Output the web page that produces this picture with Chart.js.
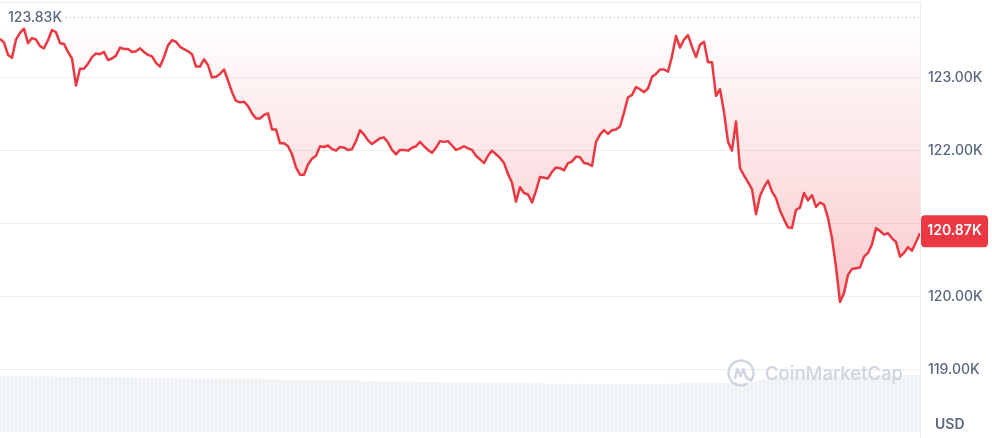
<!DOCTYPE html>
<html><head><meta charset="utf-8">
<script src="https://cdn.jsdelivr.net/npm/chart.js@4.4.1/dist/chart.umd.min.js"></script>
<style>html,body{margin:0;padding:0;background:#fff;overflow:hidden}#wrap{width:992px;height:438px;position:relative}</style>
</head><body><div id="wrap"><canvas id="c" width="992" height="438"></canvas></div>
<script>
// BTC price (thousand USD), evenly spaced samples over 24h
const prices = [
123.53,123.48,123.31,123.27,123.52,123.61,123.67,123.47,123.54,123.52,
123.43,123.40,123.51,123.65,123.62,123.47,123.46,123.35,123.26,122.89,
123.12,123.12,123.19,123.28,123.33,123.32,123.35,123.24,123.26,123.30,
123.41,123.39,123.39,123.35,123.36,123.40,123.35,123.31,123.29,123.20,
123.15,123.28,123.44,123.51,123.49,123.42,123.39,123.36,123.32,123.15,
123.15,123.25,123.17,123.00,123.01,123.05,123.11,122.96,122.80,122.68,
122.66,122.67,122.61,122.51,122.44,122.44,122.49,122.51,122.29,122.29,
122.10,122.10,122.06,121.95,121.77,121.67,121.67,121.81,121.89,121.93,
122.06,122.05,122.07,122.02,122.00,122.05,122.04,122.01,122.02,122.13,
122.28,122.22,122.14,122.09,122.13,122.17,122.18,122.11,122.01,121.95,
122.01,122.01,122.00,122.04,122.06,122.12,122.06,122.01,121.97,122.04,
122.13,122.12,122.13,122.07,122.01,122.03,122.06,122.03,122.01,121.93,
121.88,121.83,121.93,122.00,121.95,121.90,121.83,121.68,121.56,121.30,
121.50,121.42,121.40,121.29,121.45,121.64,121.63,121.62,121.71,121.77,
121.76,121.73,121.83,121.85,121.92,121.91,121.83,121.82,121.79,122.12,
122.22,122.28,122.23,122.28,122.29,122.33,122.52,122.73,122.76,122.87,
122.84,122.80,122.85,123.01,123.05,123.11,123.11,123.08,123.29,123.57,
123.41,123.52,123.58,123.42,123.28,123.45,123.49,123.21,123.21,122.75,
122.84,122.53,122.12,122.00,122.40,121.76,121.66,121.57,121.47,121.13,
121.38,121.50,121.59,121.44,121.35,121.18,121.06,120.95,120.94,121.19,
121.22,121.42,121.32,121.39,121.23,121.29,121.26,121.08,120.80,120.41,
119.93,120.05,120.30,120.38,120.39,120.40,120.55,120.60,120.72,120.94,
120.90,120.85,120.87,120.80,120.75,120.55,120.60,120.68,120.63,120.75,
120.87
];
// 24h volume (relative units)
const volumes = [
13.1,13.0,13.1,13.0,13.1,13.0,13.0,13.1,13.0,12.9,13.0,13.0,12.9,13.0,12.9,12.9,12.8,12.9,12.8,12.8,
12.8,12.9,12.8,12.8,12.7,12.8,12.8,12.7,12.8,12.8,12.7,12.7,12.8,12.7,12.6,12.7,12.6,12.6,12.7,12.6,
12.6,12.6,12.5,12.6,12.6,12.5,12.6,12.5,12.5,12.5,12.4,12.5,12.4,12.5,12.4,12.4,12.3,12.4,12.4,12.3,
12.4,12.3,12.4,12.3,12.3,12.4,12.3,12.2,12.3,12.2,12.3,12.2,12.2,12.1,12.2,12.1,12.2,12.1,12.1,12.2,
12.1,12.1,12.0,12.1,12.1,12.0,12.1,12.0,12.0,12.1,12.0,11.9,12.0,11.9,11.9,12.0,11.9,11.8,11.9,11.8,
11.8,11.7,11.8,11.7,11.7,11.6,11.7,11.6,11.7,11.6,11.6,11.5,11.6,11.6,11.5,11.6,11.5,11.5,11.6,11.5,
11.5,11.4,11.5,11.4,11.4,11.5,11.4,11.4,11.3,11.4,11.4,11.3,11.4,11.3,11.3,11.4,11.3,11.3,11.2,11.3,
11.3,11.2,11.3,11.2,11.2,11.3,11.2,11.2,11.1,11.2,11.2,11.1,11.2,11.2,11.1,11.2,11.1,11.2,11.2,11.1,
11.2,11.1,11.2,11.2,11.1,11.2,11.2,11.3,11.2,11.3,11.3,11.4,11.3,11.4,11.4,11.3,11.4,11.4,11.5,11.4,
11.4,11.5,11.4,11.5,11.5,11.6,11.6,11.7,11.8,11.9,12.1,12.3,12.5,12.7,12.8,12.9,12.9,13.0,12.9,13.0,
13.0,13.1,13.0,13.0,13.1,13.0,13.1,13.1,13.0,13.1,13.1,13.0,13.1,13.1,13.2,13.1,13.1,13.2,13.1,13.2,
13.2,13.1,13.2,13.2,13.1,13.2,13.2,13.3,13.2,13.2,13.3
];
const yTicks = [119, 120, 121, 122, 123];
const openPrice = 123.83;
const yMin = 118.15, yMax = 124.02;
const currency = 'USD';
const labels = prices.map((_, i) => i);

const RED = '#ea3943';
const GREY = '#58667e';
const FONT = 'Inter, "Noto Sans", sans-serif';

function fmtK(v){ return v.toFixed(2) + 'K'; }

const overlay = {
  id: 'overlay',
  afterDatasetsDraw(chart){
    const c = chart.ctx;
    // watermark
    c.save();
    c.strokeStyle = '#cfd5de';
    c.fillStyle = '#cfd5de';
    c.lineWidth = 2.4;
    c.lineCap = 'round';
    c.lineJoin = 'round';
    const cx = 741, cy = 373, r = 12.5;
    c.beginPath();
    c.arc(cx, cy, r, Math.PI*0.35, Math.PI*2.2);
    c.stroke();
    c.beginPath();
    c.moveTo(cx-6, cy+5);
    c.lineTo(cx-3.5, cy-4);
    c.lineTo(cx-0.5, cy+3);
    c.lineTo(cx+2.5, cy-4);
    c.lineTo(cx+5, cy+4);
    c.quadraticCurveTo(cx+8, cy+8, cx+11, cy+6);
    c.stroke();
    c.font = '500 18.5px ' + FONT;
    c.textBaseline = 'middle';
    c.textAlign = 'left';
    c.fillText('CoinMarketCap', 765, 374);
    c.restore();
  },
  afterDraw(chart){
    const c = chart.ctx;
    const area = chart.chartArea;
    const ys = chart.scales.y;
    c.save();
    // top border
    c.fillStyle = '#e9ecf0';
    c.fillRect(area.left, area.top - 1, area.right - area.left, 1);
    // vertical border to bottom
    c.fillRect(area.right, area.top - 1, 1, chart.height);
    // open price dotted line
    const yo = Math.round(ys.getPixelForValue(openPrice)) + 0.5;
    c.strokeStyle = '#a6b0c3';
    c.lineWidth = 1;
    c.setLineDash([1, 3]);
    c.beginPath();
    c.moveTo(66, yo);
    c.lineTo(area.right, yo);
    c.stroke();
    c.setLineDash([]);
    // open price label
    c.fillStyle = 'rgba(255,255,255,0.85)';
    c.fillRect(2, yo - 10, 63, 20);
    c.fillStyle = GREY;
    c.font = '500 14px ' + FONT;
    c.textBaseline = 'middle';
    c.textAlign = 'left';
    c.fillText(fmtK(openPrice), 8, yo);
    // current price tag
    const last = prices[prices.length - 1];
    const yl = ys.getPixelForValue(last);
    const bx = area.right + 1, bw = 67, bh = 32;
    c.fillStyle = RED;
    c.beginPath();
    c.roundRect(bx, yl - 18, bw, bh, 4);
    c.fill();
    c.fillStyle = '#fff';
    c.font = '600 14px ' + FONT;
    c.textAlign = 'center';
    c.fillText(fmtK(last), bx + bw/2, yl - 2);
    // currency
    c.fillStyle = GREY;
    c.font = '600 14px ' + FONT;
    c.textAlign = 'left';
    c.fillText(currency, 935, 425);
    c.restore();
  }
};

new Chart(document.getElementById('c'), {
  type: 'line',
  data: {
    labels,
    datasets: [
      {
        type: 'line',
        data: prices,
        yAxisID: 'y',
        borderColor: RED,
        borderWidth: 2.5,
        pointRadius: 0,
        tension: 0,
        borderJoinStyle: 'round',
        order: 0,
        fill: { value: openPrice },
        backgroundColor: (ctx) => {
          const chart = ctx.chart;
          if (!chart.chartArea) return 'rgba(234,57,67,0.1)';
          const ys = chart.scales.y;
          const g = chart.ctx.createLinearGradient(0, ys.getPixelForValue(openPrice), 0, ys.getPixelForValue(119.9));
          g.addColorStop(0, 'rgba(234,57,67,0.0)');
          g.addColorStop(1, 'rgba(234,57,67,0.27)');
          return g;
        }
      },
      {
        type: 'bar',
        data: volumes,
        yAxisID: 'yv',
        backgroundColor: '#edf0f4',
        barPercentage: 0.8,
        categoryPercentage: 1,
        order: 1
      }
    ]
  },
  options: {
    responsive: false,
    animation: false,
    devicePixelRatio: 1,
    layout: { padding: { top: 3, bottom: 6, left: 0, right: 0 } },
    plugins: { legend: { display: false }, tooltip: { enabled: false } },
    scales: {
      x: { display: false, offset: false },
      y: {
        position: 'right',
        min: yMin,
        max: yMax,
        afterBuildTicks: (s) => { s.ticks = yTicks.map(v => ({ value: v })); },
        afterFit: (s) => { s.width = 72; s.paddingTop = 0; s.paddingBottom = 0; },
        ticks: {
          color: GREY,
          padding: 8,
          font: { family: FONT, size: 14, weight: '500' },
          callback: (v) => fmtK(v)
        },
        grid: { color: '#eceff3', drawTicks: false },
        border: { display: false }
      },
      yv: { display: false, min: 0, max: 100 }
    }
  },
  plugins: [overlay]
});
</script>
</body></html>
